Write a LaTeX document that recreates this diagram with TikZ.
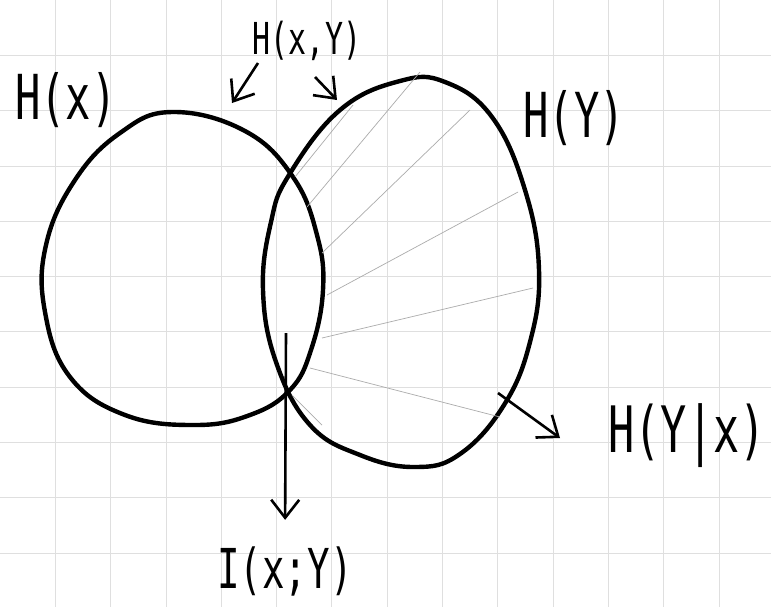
\documentclass[tikz,border=0pt]{standalone}
\usepackage{fontspec}
\usepackage{tikz}
\usetikzlibrary{arrows.meta}
\newfontfamily\handfont[FakeStretch=0.68]{DejaVu Sans Mono}

\begin{document}
\begin{tikzpicture}[x=0.5pt,y=-0.5pt,
  gridline/.style={gray!25,line width=0.4pt},
  blob/.style={line width=2.2pt,line join=round},
  hatch/.style={gray!65,line width=0.35pt},
  pointer/.style={line width=1.3pt,-{Straight Barb[length=9pt,width=14pt,line width=1.3pt]}},
  lbl/.style={inner sep=0pt}]
\useasboundingbox (0,0) rectangle (771,607);
\fill[white] (0,0) rectangle (771,607);
% squared paper
\foreach \gx in {1,...,13} \draw[gridline] ({55.3*\gx},0) -- ({55.3*\gx},607);
\foreach \gy in {1,...,10} \draw[gridline] (0,{55.3*\gy}) -- (771,{55.3*\gy});
% the two sets
\draw[blob] plot[smooth cycle,tension=0.7] coordinates {
  (172,112) (245,131) (293,177) (317,235) (323,290) (311,350) (290,390)
  (250,415) (195,425) (125,415) (70,377) (45,312) (46,245) (75,180) (120,133)};
\draw[blob] plot[smooth cycle,tension=0.7] coordinates {
  (289,175) (340,110) (400,81) (445,82) (492,117) (525,190) (539,270)
  (530,342) (504,405) (460,454) (415,467) (360,455) (310,425) (276,362)
  (263,290) (271,222)};
% shading of H(y|x)
\foreach \ax/\ay/\bx/\by in {295/177/353/105, 307/207/420/72, 322/253/470/110,
  327/295/518/192, 322/338/533/288, 310/368/500/417, 292/395/322/425}
  \draw[hatch] (\ax,\ay) -- (\bx,\by);
% labels
\node[lbl,font=\handfont\fontsize{31}{36}\selectfont] (lX) at (66,100) {H(x)};
\node[lbl,font=\handfont\fontsize{22}{26}\selectfont] (lXY) at (307,41) {H(x,Y)};
\node[lbl,font=\handfont\fontsize{31}{36}\selectfont] (lY) at (574,118) {H(Y)};
\node[lbl,font=\handfont\fontsize{32}{36}\selectfont] (lYx) at (687,436) {H(Y|x)};
\node[lbl,font=\handfont\fontsize{27.5}{32}\selectfont] (lI) at (285,571) {I(x;Y)};
% pointers
\coordinate (xyA0) at (258,63);
\coordinate (xyA1) at (232,103);
\coordinate (xyB0) at (315,77);
\coordinate (xyB1) at (337,100);
\coordinate (mi0) at (286,333);
\coordinate (yx0) at (498,393);
\coordinate (yx1) at (560,438);
\draw[pointer] (xyA0) -- (xyA1);
\draw[pointer] (xyB0) -- (xyB1);
\draw[pointer,shorten >=13pt] (mi0) -- (lI.north);
\draw[pointer] (yx0) -- (yx1);
\end{tikzpicture}
\end{document}
